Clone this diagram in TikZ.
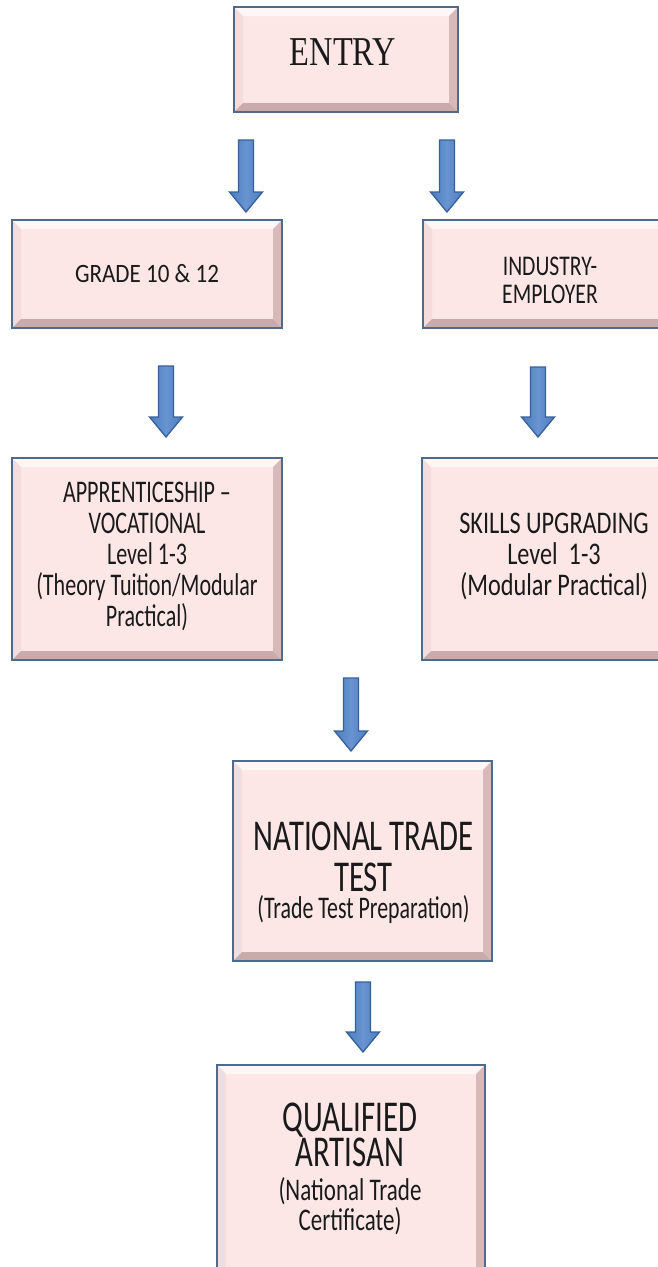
\documentclass[tikz,border=0pt]{standalone}
\usepackage{fontspec}
\usetikzlibrary{calc}
\newfontfamily\fEntry[FakeStretch=0.79]{Liberation Serif}
\newfontfamily\fGrade[FakeStretch=0.87]{Carlito}
\newfontfamily\fInd[FakeStretch=0.76]{Carlito}
\newfontfamily\fApp[FakeStretch=0.70]{Carlito}
\newfontfamily\fSkl[FakeStretch=0.77]{Carlito}
\newfontfamily\fBig[FakeStretch=0.70]{Carlito}
\newfontfamily\fNsm[FakeStretch=0.695]{Carlito}
\newfontfamily\fQsm[FakeStretch=0.73]{Carlito}
\definecolor{boxfill}{HTML}{FCE6E6}
\definecolor{boxedge}{HTML}{4D6B8C}
\definecolor{bevtop}{HTML}{FFF6F6}
\definecolor{bevleft}{HTML}{F4DCDC}
\definecolor{bevright}{HTML}{D8B9B9}
\definecolor{bevbot}{HTML}{C9ABAB}
\definecolor{arrfill}{HTML}{4A7EBF}
\definecolor{arrlight}{HTML}{6994D0}
\definecolor{arredge}{HTML}{37609A}
\definecolor{textcol}{HTML}{1A1A1A}
\tikzset{
  box/.style={draw=boxedge, line width=1.5pt, fill=boxfill, inner sep=0pt,
    path picture={
      \path (path picture bounding box.north west) coordinate (pNW)
            (path picture bounding box.south east) coordinate (pSE);
      \fill[bevtop] let \p1=(pNW), \p2=(pSE) in
        (\x1,\y1) -- (\x2,\y1) -- (\x2-9pt,\y1-9pt) -- (\x1+9pt,\y1-9pt) -- cycle;
      \fill[bevleft] let \p1=(pNW), \p2=(pSE) in
        (\x1,\y1) -- (\x1+9pt,\y1-9pt) -- (\x1+9pt,\y2+9pt) -- (\x1,\y2) -- cycle;
      \fill[bevright] let \p1=(pNW), \p2=(pSE) in
        (\x2,\y1) -- (\x2-9pt,\y1-9pt) -- (\x2-9pt,\y2+9pt) -- (\x2,\y2) -- cycle;
      \fill[bevbot] let \p1=(pNW), \p2=(pSE) in
        (\x1,\y2) -- (\x1+9pt,\y2+9pt) -- (\x2-9pt,\y2+9pt) -- (\x2,\y2) -- cycle;
    }},
  txt/.style={anchor=north, inner sep=0pt, align=center, text=textcol},
  blockarr/.style={draw=arredge, line width=1.3pt, line join=miter,
    left color=arrfill, right color=arrfill, middle color=arrlight,
    to path={let \p1=(\tikztostart), \p2=(\tikztotarget) in
      (\x1-7.5pt,\y1) -- (\x1+7.5pt,\y1) -- (\x1+7.5pt,\y2+20pt)
      -- (\x1+16.5pt,\y2+20pt) -- (\x1,\y2) -- (\x1-16.5pt,\y2+20pt)
      -- (\x1-7.5pt,\y2+20pt) -- cycle}}
}
\begin{document}
\begin{tikzpicture}[x=1pt,y=-1pt]
\useasboundingbox (0,0) rectangle (658,1267);
\fill[white] (0,0) rectangle (658,1267);
\clip (0,0) rectangle (658,1267);

% boxes
\node[box, minimum width=224pt, minimum height=105pt] (entry) at (346,59.5) {};
\node[box, minimum width=270pt, minimum height=108pt] (grade) at (147,274) {};
\node[box, minimum width=254pt, minimum height=108pt] (industry) at (550,274) {};
\node[box, minimum width=270pt, minimum height=202pt] (appr) at (147,559) {};
\node[box, minimum width=264pt, minimum height=202pt] (skills) at (554,559) {};
\node[box, minimum width=259pt, minimum height=200pt] (nat) at (362.5,861) {};
\node[box, minimum width=268pt, minimum height=220pt] (qual) at (351,1175) {};

% texts
\node[txt, font=\fEntry\fontsize{41}{41}\selectfont] (entryt) at (343,38) {ENTRY};
\node[txt, font=\fGrade\fontsize{26.5}{26.5}\selectfont] (gradet) at (147,264.3) {GRADE 10 \& 12};
\node[txt, font=\fInd\fontsize{28.5}{28}\selectfont] (industryt) at (550,257) {INDUSTRY-\\EMPLOYER};
\node[txt, font=\fApp\fontsize{31.5}{31}\selectfont] (apprt) at (147,482)
  {APPRENTICESHIP –\\VOCATIONAL\\Level 1-3\\(Theory Tuition/Modular\\Practical)};
\node[txt, font=\fSkl\fontsize{31.5}{31}\selectfont] (skillst) at (554,513)
  {SKILLS UPGRADING\\Level\ \ 1-3\\(Modular Practical)};
\node[txt, font=\fBig\fontsize{44}{41}\selectfont] (natt) at (363.5,822)
  {NATIONAL TRADE\\TEST\\[-14pt]{\fNsm\fontsize{31.5}{31}\selectfont (Trade Test Preparation)}};
\node[txt, font=\fBig\fontsize{44}{35}\selectfont] (qualt) at (350,1103)
  {QUALIFIED\\ARTISAN\\[-1pt]{\fQsm\fontsize{31.5}{31}\selectfont (National Trade}\\[-5pt]{\fQsm\fontsize{31.5}{31}\selectfont Certificate)}};

% arrows
\coordinate (a1s) at (246,140);  \coordinate (a1e) at (246,212);
\coordinate (a2s) at (447,140);  \coordinate (a2e) at (447,212);
\coordinate (a3s) at (166,366);  \coordinate (a3e) at (166,437);
\coordinate (a4s) at (538,367);  \coordinate (a4e) at (538,437);
\coordinate (a5s) at (351,678);  \coordinate (a5e) at (351,751);
\coordinate (a6s) at (363,982);  \coordinate (a6e) at (363,1052);
\draw[blockarr] (a1s) to (a1e);
\draw[blockarr] (a2s) to (a2e);
\draw[blockarr] (a3s) to (a3e);
\draw[blockarr] (a4s) to (a4e);
\draw[blockarr] (a5s) to (a5e);
\draw[blockarr] (a6s) to (a6e);
\end{tikzpicture}
\end{document}
